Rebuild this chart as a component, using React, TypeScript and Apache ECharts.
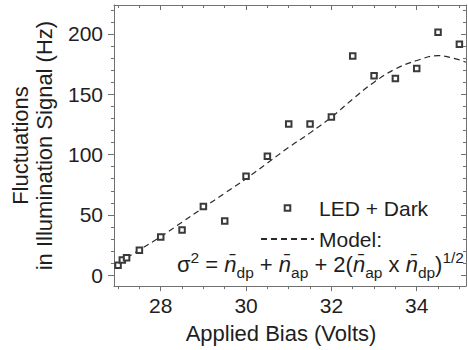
import React, { useEffect, useRef } from "react";
import * as echarts from "echarts";

const FONT = "'Liberation Sans', Arial, Helvetica, sans-serif";
const TEXT = "#1e1e1e";
const AXIS = "#707070";

// Measured data (LED + Dark)
const biasVolts = [27.0, 27.1, 27.2, 27.5, 28.0, 28.5, 29.0, 29.5, 30.0, 30.5, 31.0, 31.5, 32.0, 32.5, 33.0, 33.5, 34.0, 34.5, 35.0];
const fluctHz = [8.3, 12.6, 14.6, 20.7, 31.7, 37.5, 57, 45, 82, 98.6, 125.4, 125.4, 131.2, 181.8, 165.3, 163, 171.3, 201.4, 191.5];

// Model curve
const modelVolts = [27.0, 27.5, 28.0, 28.5, 29.0, 29.5, 30.0, 30.5, 31.0, 31.5, 32.0, 32.5, 33.0, 33.5, 34.0, 34.5, 35.0, 35.15];
const modelHz = [10, 21, 32, 44, 56, 68, 80, 93, 106, 118, 131, 146, 160, 171, 178, 182, 178.5, 176.5];

// Axis ticks
const xMajorTicks = [28, 30, 32, 34];
const xMinorTicks = [27, 27.5, 28.5, 29, 29.5, 30.5, 31, 31.5, 32.5, 33, 33.5, 34.5, 35];
const yMajorTicks = [0, 50, 100, 150, 200];
const yMinorTicks = [10, 20, 30, 40, 60, 70, 80, 90, 110, 120, 130, 140, 160, 170, 180, 190, 210, 220];

const X_MIN = 26.905;
const X_MAX = 35.155;
const Y_MIN = -9;
const Y_MAX = 224;

const seriesNames = ["LED + Dark", "Model:"];

function xAx(position: string, ticks: number[], len: number, inside: boolean, labels: boolean, line: boolean, name?: string) {
  return {
    type: "value",
    min: X_MIN,
    max: X_MAX,
    position,
    name,
    nameLocation: "middle",
    nameGap: 34,
    nameTextStyle: { fontSize: 22, fontFamily: FONT, color: TEXT, lineHeight: 24, padding: [0, 18, 0, 0] },
    axisLine: { show: line, onZero: false, lineStyle: { color: AXIS, width: 1 } },
    axisTick: { show: true, inside, length: len, customValues: ticks, lineStyle: { color: AXIS, width: 1 } },
    axisLabel: labels
      ? { show: true, customValues: ticks, fontSize: 21, fontFamily: FONT, color: TEXT, margin: 9 }
      : { show: false },
    splitLine: { show: false },
  };
}

function yAx(position: string, ticks: number[], len: number, inside: boolean, labels: boolean, line: boolean, name?: string) {
  return {
    type: "value",
    min: Y_MIN,
    max: Y_MAX,
    position,
    name,
    nameLocation: "middle",
    nameGap: 58,
    nameRotate: 90,
    nameTextStyle: { fontSize: 22, fontFamily: FONT, color: TEXT, lineHeight: 24 },
    axisLine: { show: line, onZero: false, lineStyle: { color: AXIS, width: 1 } },
    axisTick: { show: true, inside, length: len, customValues: ticks, lineStyle: { color: AXIS, width: 1 } },
    axisLabel: labels
      ? { show: true, customValues: ticks, fontSize: 21, fontFamily: FONT, color: TEXT, margin: 11 }
      : { show: false },
    splitLine: { show: false },
  };
}

export default function App() {
  const ref = useRef<HTMLDivElement>(null);

  useEffect(() => {
    if (!ref.current) return;
    const chart = echarts.init(ref.current, null, { renderer: "svg" });
    const nb = "n\u0304";
    const formula =
      `{m|σ}{sup|2}{m| = }{n|${nb}}{sub|dp}{m| + }{n|${nb}}{sub|ap}{m| + 2(}{n|${nb}}{sub|ap}{m| x }{n|${nb}}{sub|dp}{m|)}{sup|1/2}`;

    chart.setOption({
      animation: false,
      backgroundColor: "#ffffff",
      grid: { left: 114, right: 2, top: 5, bottom: 63, containLabel: false },
      xAxis: [
        xAx("bottom", xMajorTicks, 5, false, true, true, "Applied Bias (Volts)"),
        xAx("bottom", xMinorTicks, 3, false, false, false),
        xAx("top", xMajorTicks, 5, true, false, true),
        xAx("top", xMinorTicks, 3, true, false, false),
      ],
      yAxis: [
        yAx("left", yMajorTicks, 6, false, true, true, "Fluctuations\nin Illumination Signal (Hz)"),
        yAx("left", yMinorTicks, 3, false, false, false),
        yAx("right", yMajorTicks, 5, true, false, true),
        yAx("right", yMinorTicks, 3, true, false, false),
      ],
      legend: {
        orient: "vertical",
        left: 260,
        top: 197,
        padding: 0,
        itemWidth: 53,
        itemHeight: 7,
        itemGap: 9,
        align: "left",
        data: [
          { name: seriesNames[0] },
          { name: seriesNames[1], itemStyle: { opacity: 0, color: "rgba(0,0,0,0)", borderWidth: 0 } },
        ],
        textStyle: { fontSize: 21, fontFamily: FONT, color: TEXT, lineHeight: 22 },
      },
      series: [
        {
          name: seriesNames[0],
          type: "line",
          data: biasVolts.map((x, i) => [x, fluctHz[i]]),
          symbol: "emptyRect",
          symbolSize: 5.5,
          showSymbol: true,
          lineStyle: { opacity: 0, width: 0 },
          itemStyle: { color: "#3a3a3a", borderColor: "#3a3a3a", borderWidth: 1 },
          z: 3,
        },
        {
          name: seriesNames[1],
          type: "line",
          data: modelVolts.map((x, i) => [x, modelHz[i]]),
          smooth: 0.4,
          showSymbol: false,
          symbol: "none",
          lineStyle: { color: "#2a2a2a", width: 1.2, type: [6, 4] },
          itemStyle: { color: "#2a2a2a" },
          z: 2,
        },
      ],
      graphic: [
        {
          type: "text",
          right: 4,
          top: 249,
          style: {
            text: formula,
            fill: TEXT,
            align: "right",
            verticalAlign: "top",
            rich: {
              m: { fontSize: 22, fontFamily: FONT, fill: TEXT, lineHeight: 31, verticalAlign: "middle" },
              n: { fontSize: 22, fontFamily: FONT, fontStyle: "italic", fill: TEXT, lineHeight: 31, verticalAlign: "middle" },
              sub: { fontSize: 15.5, fontFamily: FONT, fill: TEXT, lineHeight: 15, verticalAlign: "bottom" },
              sup: { fontSize: 15.5, fontFamily: FONT, fill: TEXT, lineHeight: 15, verticalAlign: "top" },
            },
          },
        },
      ],
    });
    return () => chart.dispose();
  }, []);

  return (
    <div
      ref={ref}
      style={{ position: "absolute", left: 0, top: 0, width: 468, height: 350 }}
    />
  );
}
